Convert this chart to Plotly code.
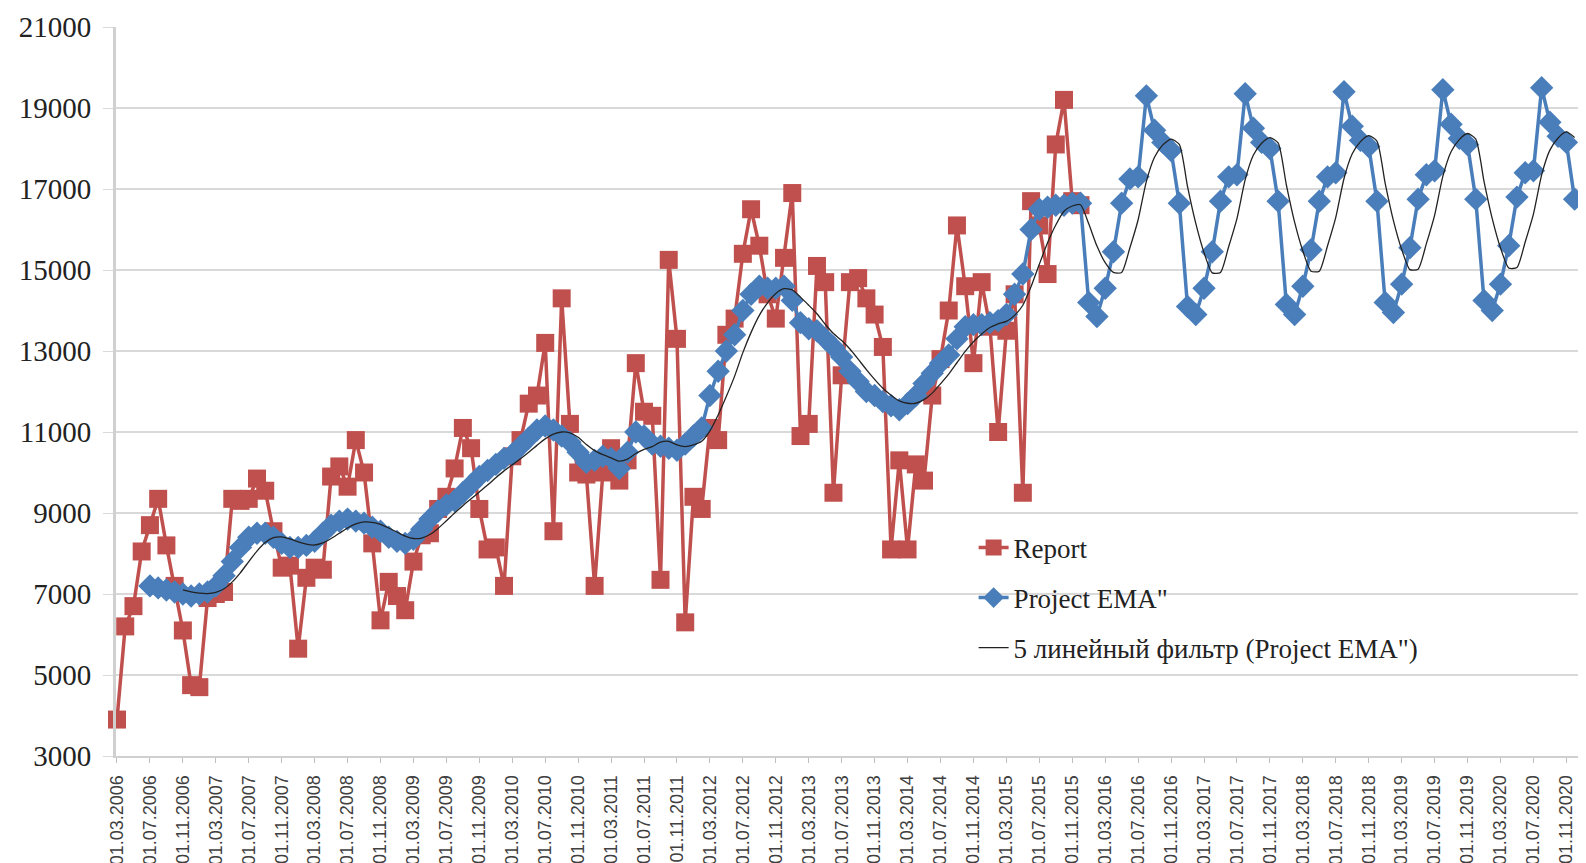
import plotly.graph_objects as go
import pandas as pd

# Monthly categories: 01.03.2006 ... 01.12.2020
months = [f"01.{m:02d}.{y}" for y in range(2006, 2021) for m in range(1, 13)][2:]
tick_labels = months[::4]

# Report (actual), starts 01.03.2006
report = [3900, 6200, 6700, 8050, 8700, 9350, 8200, 7200, 6100, 4750,
          4700, 6900, 7000, 7050, 9350, 9300, 9350, 9850, 9550, 8550,
          7650, 7700, 5650, 7400, 7650, 7600, 9900, 10150, 9650, 10800,
          10000, 8250, 6350, 7300, 6950, 6600, 7800, 8450, 8500, 9100,
          9400, 10100, 11100, 10600, 9100, 8100, 8150, 7200, 10400, 10800,
          11700, 11900, 13200, 8550, 14300, 11200, 10000, 9950, 7200, 10000,
          10600, 9800, 10300, 12700, 11500, 11400, 7350, 15250, 13300, 6300,
          9400, 9100, 11100, 10800, 13400, 13800, 15400, 16500, 15600, 14400,
          13800, 15300, 16900, 10900, 11200, 15100, 14700, 9500, 12400, 14700,
          14800, 14300, 13900, 13100, 8100, 10300, 8100, 10200, 9800, 11900,
          12800, 14000, 16100, 14600, 12700, 14700, 13600, 11000, 13500, 14400,
          9500, 16700, 16100, 14900, 18100, 19200, 16700, 16600]

# Project EMA", starts 01.07.2006 (index 4)
project_start = 4
project = [7200, 7150, 7100, 7050, 7000, 6950, 7000, 7050, 7200, 7450,
           7800, 8150, 8400, 8500, 8500, 8400, 8250, 8150, 8150, 8200,
           8300, 8500, 8700, 8800, 8850, 8800, 8750, 8650, 8550, 8400,
           8300, 8250, 8350, 8600, 8850, 9050, 9200, 9300, 9500, 9700,
           9900, 10050, 10200, 10350, 10450, 10650, 10850, 11050, 11150, 11050,
           10900, 10750, 10500, 10250, 10300, 10400, 10350, 10100, 10500, 11000,
           10900, 10700, 10650, 10600, 10550, 10700, 10900, 11100, 11900, 12500,
           13000, 13400, 14000, 14400, 14600, 14550, 14550, 14600, 14250, 13700,
           13550, 13500, 13300, 13100, 12850, 12500, 12250, 12000, 11900, 11750,
           11650, 11550, 11700, 11900, 12200, 12450, 12700, 12900, 13300, 13600,
           13650, 13650, 13700, 13750, 13900, 14400, 14900, 16000, 16500, 16550,
           16600, 16600, 16650, 16650,
           14200, 13850, 14550, 15450, 16650, 17250, 17300, 19300, 18450, 18150, 17950, 16650,
           14100, 13900, 14550, 15450, 16700, 17300, 17350, 19350, 18500, 18150, 18000, 16700,
           14150, 13900, 14600, 15500, 16700, 17300, 17400, 19400, 18550, 18200, 18050, 16700,
           14200, 13950, 14650, 15550, 16750, 17350, 17450, 19450, 18600, 18250, 18100, 16750,
           14250, 14000, 14650, 15600, 16800, 17400, 17450, 19500, 18650, 18300, 18150, 16750]

x_report = months[:len(report)]
x_project = months[project_start:project_start + len(project)]
ma5 = pd.Series(project).rolling(5).mean().tolist()

RED = "#C0504D"
BLUE = "#4A7EBB"

fig = go.Figure()
fig.add_trace(go.Scatter(
    x=x_report, y=report, name="Report", mode="lines+markers",
    line=dict(color=RED, width=3.5),
    marker=dict(symbol="square", size=18, color=RED),
    cliponaxis=False, legendgroup="a"))
fig.add_trace(go.Scatter(
    x=x_project, y=project, name='Project EMA"', mode="lines+markers",
    line=dict(color=BLUE, width=3.5),
    marker=dict(symbol="diamond", size=18, color=BLUE),
    cliponaxis=False, legendgroup="b"))
fig.add_trace(go.Scatter(
    x=x_project, y=ma5, name='5 линейный фильтр (Project EMA")', mode="lines",
    line=dict(color="#222222", width=1.3, shape="spline", smoothing=0.6),
    legendgroup="c"))

# page body has an 8px margin, so the figure is sized/offset to fit the window
fig.update_layout(
    width=1578, height=855,
    margin=dict(l=108, r=4, t=19, b=107),
    plot_bgcolor="white", paper_bgcolor="white",
    showlegend=True,
    legend=dict(x=0.585, y=0.319, xanchor="left", yanchor="top",
                font=dict(family="Liberation Serif", size=27, color="#222222"),
                bgcolor="rgba(0,0,0,0)", tracegroupgap=12),
    xaxis=dict(type="category", categoryorder="array", categoryarray=months,
               range=[-0.12, 177.9], tickmode="array",
               tickvals=tick_labels, ticktext=tick_labels, tickangle=-90,
               tickfont=dict(family="Liberation Sans", size=18, color="#404040"),
               ticks="outside", ticklen=5, tickcolor="#bfbfbf",
               showgrid=False, showline=True, linecolor="#d0d0d0", linewidth=2,
               zeroline=False, ticklabelstandoff=5, automargin=False),
    yaxis=dict(range=[3000, 21000], tick0=1000, dtick=2000, tickformat="d",
               showgrid=True, gridcolor="#d9d9d9", gridwidth=2,
               showline=True, linecolor="#d0d0d0", linewidth=3,
               ticks="outside", ticklen=10, tickcolor="#d9d9d9",
               tickfont=dict(family="Liberation Serif", size=29, color="#222222"),
               zeroline=False, ticklabelstandoff=6, automargin=False),
)

fig.write_html("out.html")
